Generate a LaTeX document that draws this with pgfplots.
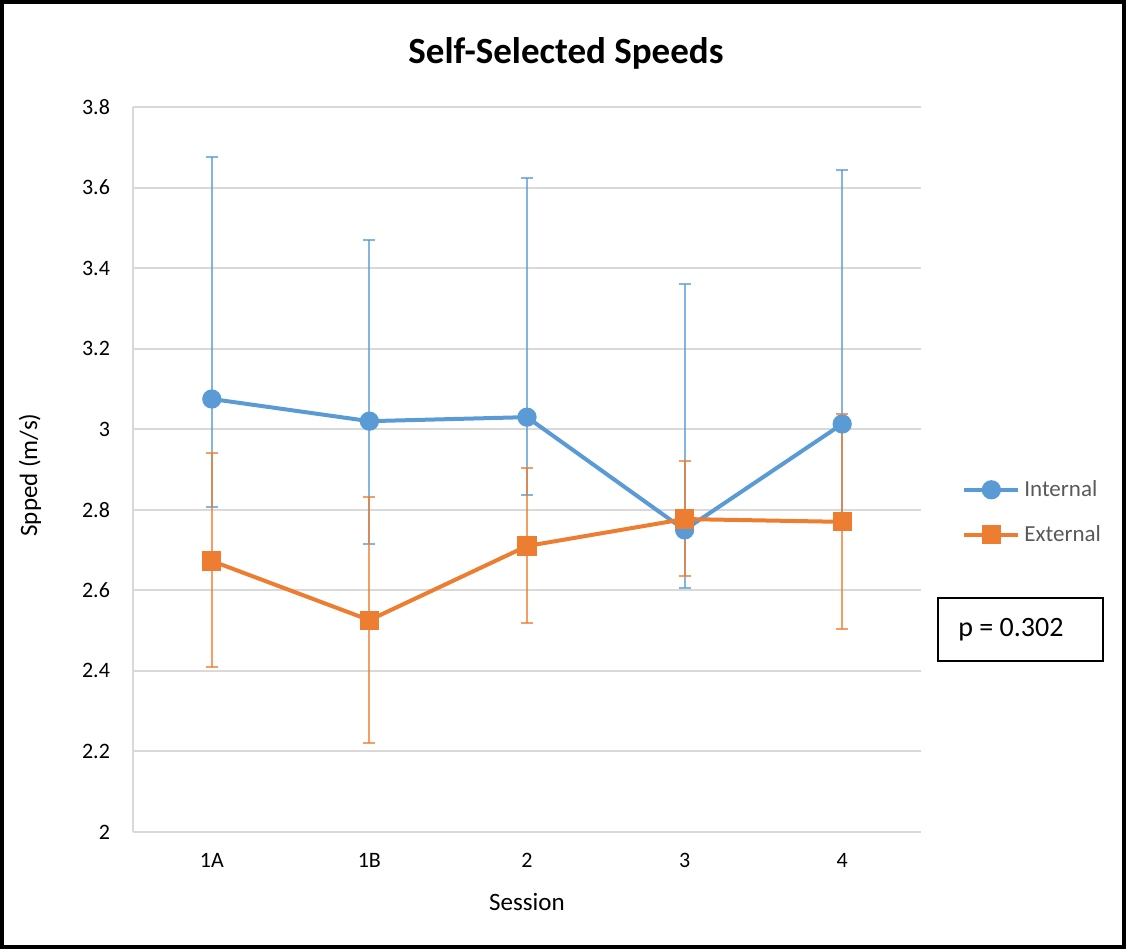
\documentclass[border=0pt]{standalone}
\usepackage{pgfplots}
\pgfplotsset{compat=1.18}
\usepackage{fontspec}
\setmainfont{Carlito}
\definecolor{cblue}{HTML}{5B9BD5}
\definecolor{corange}{HTML}{ED7D31}
\definecolor{gridgray}{HTML}{D9D9D9}
\definecolor{labelgray}{HTML}{595959}
\begin{document}
\begin{tikzpicture}
\path[use as bounding box] (0,0) rectangle (563pt,474.5pt);
\draw[line width=2pt] (1pt,1pt) rectangle (562pt,473.5pt);
\node[font=\bfseries\fontsize{18.5}{22}\selectfont] at (283pt,448pt) {Self-Selected Speeds};
\node[rotate=90,font=\fontsize{12.5}{15}\selectfont] at (15pt,237pt) {Spped (m/s)};
\node[font=\fontsize{12.5}{15}\selectfont] at (263.5pt,23.5pt) {Session};
\begin{axis}[
  at={(66.5pt,58.5pt)}, anchor=south west,
  scale only axis, width=394pt, height=362.5pt,
  xmin=-0.5, xmax=4.5, ymin=2, ymax=3.8,
  xtick={0,1,2,3,4}, xticklabels={1A,1B,2,3,4},
  ytick={2,2.2,2.4,2.6,2.8,3,3.2,3.4,3.6,3.8},
  yticklabels={2,2.2,2.4,2.6,2.8,3,3.2,3.4,3.6,3.8},
  ymajorgrids, grid style={draw=gridgray, line width=1pt},
  axis lines*=left,
  y axis line style={draw=gridgray, line width=1pt, -},
  x axis line style={draw=gridgray, line width=1pt, -},
  major tick length=0pt,
  tick label style={font=\fontsize{11}{13}\selectfont, text=black},
  yticklabel style={xshift=-8pt},
  xticklabel style={yshift=-7pt},
  legend style={at={(1.052,0.441)}, anchor=west, draw=none, fill=none,
    font=\fontsize{11.5}{13}\selectfont, text=labelgray, row sep=9pt,
    inner sep=0pt},
  legend cell align=left,
  legend image code/.code={\draw[mark repeat=2,mark phase=2,#1] plot coordinates {(0pt,0pt) (13.5pt,0pt) (27pt,0pt)};},
  error bars/y dir=both, error bars/y explicit,
]
\addplot[color=cblue, line width=2pt, mark=*, mark size=3.8pt,
  mark options={fill=cblue, draw=cblue},
  error bars/error bar style={line width=1pt, color=cblue, opacity=0.75},
  error bars/error mark options={rotate=90, mark size=3pt, line width=1pt, color=cblue, opacity=0.75}]
coordinates {
 (0,3.075) += (0,0.601) -= (0,0.268)
 (1,3.020) += (0,0.450) -= (0,0.305)
 (2,3.030) += (0,0.594) -= (0,0.193)
 (3,2.750) += (0,0.610) -= (0,0.144)
 (4,3.013) += (0,0.630) -= (0,0.263)
};
\addlegendentry{Internal}
\addplot[color=corange, line width=2pt, mark=square*, mark size=3.8pt,
  mark options={fill=corange, draw=corange},
  error bars/error bar style={line width=1pt, color=corange, opacity=0.75},
  error bars/error mark options={rotate=90, mark size=3pt, line width=1pt, color=corange, opacity=0.75}]
coordinates {
 (0,2.673) += (0,0.268) -= (0,0.264)
 (1,2.526) += (0,0.306) -= (0,0.305)
 (2,2.710) += (0,0.194) -= (0,0.191)
 (3,2.777) += (0,0.144) -= (0,0.141)
 (4,2.770) += (0,0.268) -= (0,0.266)
};
\addlegendentry{External}
\end{axis}
\draw[line width=1pt] (469pt,144pt) rectangle (551.5pt,175.5pt);
\node[anchor=west, inner sep=0pt, font=\fontsize{14}{16}\selectfont] at (479pt,159.75pt) {p = 0.302};
\end{tikzpicture}
\end{document}
